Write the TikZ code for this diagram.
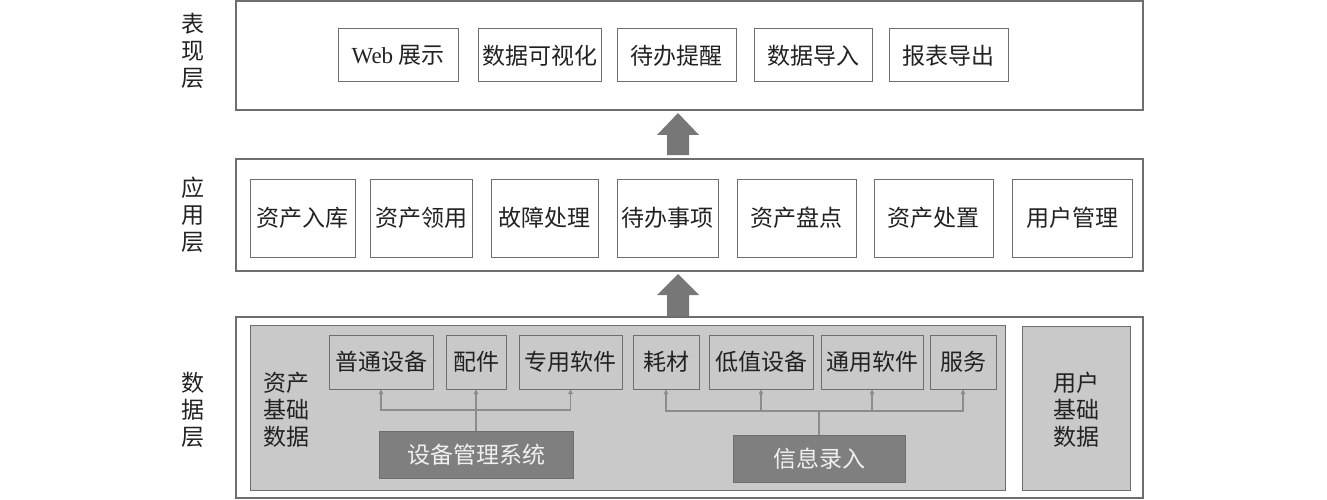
\documentclass[tikz,border=0pt]{standalone}
\usepackage{fontspec}
\setmainfont{Noto Sans CJK SC}
\newfontfamily\latinfont{Liberation Serif}
\usetikzlibrary{arrows.meta}
\definecolor{edgegray}{HTML}{6E6E6E}
\definecolor{assetgray}{HTML}{C9C9C9}
\definecolor{sysgray}{HTML}{7F7F7F}
\definecolor{arrowgray}{HTML}{777777}
\definecolor{linkgray}{HTML}{8C8C8C}
\definecolor{inkgray}{HTML}{222222}
\begin{document}
\begin{tikzpicture}[
    x=1pt, y=-1pt,
    font=\fontsize{23}{27}\selectfont, text=inkgray,
    layer/.style={draw=edgegray, line width=1.3pt, fill=white, inner sep=0pt},
    item/.style={draw=edgegray, line width=1pt, fill=white, inner sep=0pt},
    dataitem/.style={item, fill=assetgray},
    sysbox/.style={draw=edgegray, line width=1pt, fill=sysgray, text=white!94!black, inner sep=0pt},
    label/.style={align=center, inner sep=0pt},
    link/.style={draw=linkgray, line width=1.3pt, -{Triangle[length=4.5pt,width=4.5pt]}},
    bigarrow/.style={fill=arrowgray}
]
\useasboundingbox (0,0) rectangle (1327,500);

% layers
\node[layer, minimum width=907, minimum height=109] (present) at (689.5,55.5) {};
\node[layer, minimum width=907, minimum height=112] (app) at (689.5,215) {};
\node[layer, minimum width=907, minimum height=181] (data) at (689.5,407.5) {};

\node[label] (presentlbl) at (193,51) {表\\现\\层};
\node[label] (applbl) at (193,215) {应\\用\\层};
\node[label] (datalbl) at (193,410) {数\\据\\层};

% presentation layer
\node[item, minimum width=120, minimum height=53] (web) at (398,55.5) {{\latinfont Web} 展示};
\node[item, minimum width=123, minimum height=53] (viz) at (539.5,55.5) {数据可视化};
\node[item, minimum width=119, minimum height=53] (remind) at (676.5,55.5) {待办提醒};
\node[item, minimum width=118, minimum height=53] (import) at (813,55.5) {数据导入};
\node[item, minimum width=119, minimum height=53] (export) at (948.5,55.5) {报表导出};

% application layer
\node[item, minimum width=105, minimum height=78] (stockin) at (302.5,218) {资产入库};
\node[item, minimum width=102, minimum height=78] (receive) at (421,218) {资产领用};
\node[item, minimum width=107, minimum height=78] (fault) at (544.5,218) {故障处理};
\node[item, minimum width=101, minimum height=78] (todo) at (667.5,218) {待办事项};
\node[item, minimum width=119, minimum height=78] (check) at (796.5,218) {资产盘点};
\node[item, minimum width=119, minimum height=78] (dispose) at (933.5,218) {资产处置};
\node[item, minimum width=120, minimum height=78] (usermgr) at (1072,218) {用户管理};

% data layer
\node[dataitem, minimum width=755, minimum height=165] (asset) at (627.5,407.5) {};
\node[dataitem, minimum width=108, minimum height=164] (userdata) at (1076,408) {};
\node[label] (assetlbl) at (286,410) {资产\\基础\\数据};
\node[label] (userlbl) at (1076,410) {用户\\基础\\数据};

\node[dataitem, minimum width=104, minimum height=54] (common) at (381,362) {普通设备};
\node[dataitem, minimum width=60, minimum height=54] (parts) at (476,362) {配件};
\node[dataitem, minimum width=103, minimum height=54] (special) at (570.5,362) {专用软件};
\node[dataitem, minimum width=66, minimum height=54] (supply) at (666,362) {耗材};
\node[dataitem, minimum width=104, minimum height=54] (lowval) at (761,362) {低值设备};
\node[dataitem, minimum width=102, minimum height=54] (general) at (872,362) {通用软件};
\node[dataitem, minimum width=66, minimum height=54] (service) at (963,362) {服务};

\node[sysbox, minimum width=194, minimum height=47] (devsys) at (476,454.5) {设备管理系统};
\node[sysbox, minimum width=172, minimum height=47] (entry) at (819,458.5) {信息录入};

% connectors
\coordinate (devjoin) at (476,410);
\coordinate (entryjoin) at (819,411);
\draw[draw=linkgray, line width=1.3pt] (devsys.north) -- (devjoin);
\draw[link] (devjoin) -| (common.south);
\draw[link] (devjoin) -- (parts.south);
\draw[link] (devjoin) -| (special.south);
\draw[draw=linkgray, line width=1.3pt] (entry.north) -- (entryjoin);
\draw[link] (entryjoin) -| (supply.south);
\draw[link] (entryjoin) -| (lowval.south);
\draw[link] (entryjoin) -| (general.south);
\draw[link] (entryjoin) -| (service.south);

% arrows between layers
\fill[bigarrow] (667,155) -- (667,135) -- (657,135) -- (678,113) -- (699,135) -- (689,135) -- (689,155) -- cycle;
\fill[bigarrow] (667,316) -- (667,295) -- (657,295) -- (678,274) -- (699,295) -- (689,295) -- (689,316) -- cycle;

\end{tikzpicture}
\end{document}
